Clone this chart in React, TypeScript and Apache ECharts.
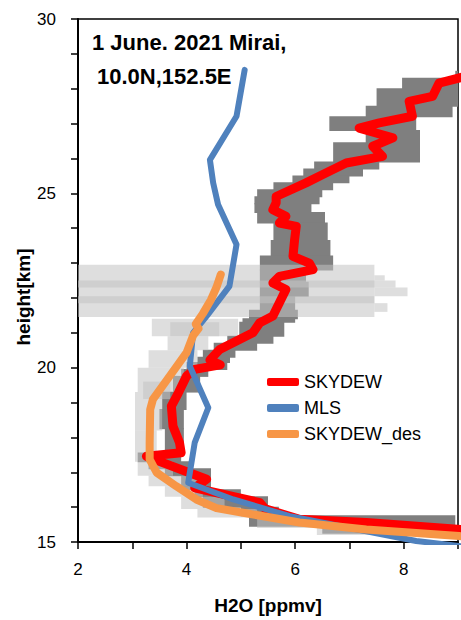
import React, { useEffect, useRef } from "react";
import * as echarts from "echarts";

// [H2O ppmv, height km]
const skydew: [number, number][] = [
  [9.3, 28.42], [8.65, 28.16], [8.53, 27.78], [8.1, 27.64], [8.16, 27.21],
  [7.55, 27.02], [7.18, 26.87], [7.49, 26.73], [7.8, 26.59], [7.43, 26.35],
  [7.61, 26.06], [6.94, 25.87], [6.51, 25.54], [6.2, 25.3], [5.65, 24.91],
  [5.65, 24.73], [5.59, 24.53], [5.83, 24.34], [5.71, 24.15], [6.02, 24.05],
  [5.99, 23.67], [5.96, 23.19], [6.26, 23.0], [6.33, 22.81], [5.71, 22.62],
  [5.59, 22.43], [5.83, 22.24], [5.71, 21.86], [5.59, 21.48], [5.35, 21.29],
  [5.22, 21.0], [4.61, 20.52], [4.43, 20.22], [4.62, 20.08], [4.15, 19.95],
  [4.0, 19.76], [3.85, 19.28], [3.72, 18.9], [3.75, 18.32], [3.87, 17.85],
  [3.9, 17.56], [3.26, 17.46], [3.4, 17.37], [4.37, 16.8], [4.15, 16.55],
  [5.35, 16.13], [5.45, 15.95], [6.08, 15.65], [7.31, 15.56], [9.2, 15.34],
];

const mls: [number, number][] = [
  [5.07, 28.54], [4.92, 27.21], [4.43, 25.96], [4.49, 25.3], [4.58, 24.68],
  [4.92, 23.53], [4.79, 22.34], [4.37, 21.48], [4.12, 21.0], [4.06, 20.04],
  [4.4, 18.85], [4.15, 17.85], [4.03, 16.7], [4.86, 16.22], [5.9, 15.74],
  [8.23, 15.03], [9.2, 14.85],
];

const skydewDes: [number, number][] = [
  [4.63, 22.67], [4.55, 22.3], [4.45, 21.95], [4.3, 21.55], [4.17, 21.25],
  [4.22, 21.12], [4.12, 20.92], [4.0, 20.43], [3.69, 19.76], [3.38, 19.09],
  [3.33, 18.8], [3.32, 17.85], [3.32, 17.37], [3.45, 16.99], [3.81, 16.6],
  [4.18, 16.22], [4.55, 15.97], [5.04, 15.84], [6.08, 15.56], [7.31, 15.36],
  [9.02, 15.17], [9.3, 15.14],
];

// [height low, height high, ppmv low, ppmv high]
const skydewBand: [number, number, number, number][] = [
  [28.3, 28.5, 8.95, 9.3], [28.0, 28.3, 7.97, 9.3], [27.5, 28.0, 7.5, 9.0],
  [27.2, 27.5, 7.3, 8.9], [26.8, 27.2, 6.63, 8.23], [26.45, 26.8, 7.3, 8.3],
  [25.9, 26.45, 6.7, 8.3], [25.7, 25.9, 6.35, 7.55], [25.5, 25.7, 6.15, 7.25],
  [25.3, 25.5, 5.95, 7.0], [25.1, 25.3, 5.6, 6.7], [24.9, 25.1, 5.3, 6.5],
  [24.7, 24.9, 5.25, 6.45], [24.45, 24.7, 5.25, 6.3], [24.15, 24.45, 5.3, 6.55],
  [23.65, 24.15, 5.6, 6.6], [23.2, 23.65, 5.55, 6.65], [22.8, 23.2, 5.35, 6.7],
  [22.45, 22.8, 5.35, 6.2], [22.05, 22.45, 5.35, 6.25], [21.65, 22.05, 5.35, 6.0],
  [21.4, 21.65, 5.15, 6.05], [21.3, 21.4, 5.03, 6.0], [20.9, 21.3, 4.97, 5.8],
  [20.7, 20.9, 4.75, 5.6], [20.5, 20.7, 4.5, 5.3], [20.3, 20.5, 4.3, 4.9],
  [20.15, 20.3, 4.2, 4.8], [19.95, 20.15, 4.0, 4.75], [19.75, 19.95, 3.9, 4.4],
  [19.3, 19.75, 3.75, 4.25], [18.8, 19.3, 3.55, 4.0], [18.25, 18.8, 3.5, 3.95],
  [17.55, 18.25, 3.6, 3.95], [17.3, 17.55, 3.1, 3.9], [17.1, 17.3, 3.3, 4.1],
  [16.9, 17.1, 3.6, 4.45], [16.5, 16.9, 3.9, 4.45], [16.3, 16.5, 4.15, 5.0],
  [16.0, 16.3, 4.3, 5.5], [15.75, 16.0, 5.0, 5.7], [15.45, 15.75, 5.15, 8.95],
  [15.25, 15.45, 6.5, 9.3],
];

const skydewDesBand: [number, number, number, number][] = [
  [21.45, 22.95, 2.0, 7.46], [22.3, 22.5, 2.0, 7.85], [21.85, 22.05, 2.0, 7.46],
  [22.05, 22.3, 7.46, 8.07], [22.5, 22.65, 7.46, 7.65], [21.6, 21.85, 7.46, 7.7],
  [20.9, 21.4, 3.36, 4.95], [20.9, 21.3, 3.7, 4.6], [20.5, 20.9, 3.65, 4.4],
  [20.0, 20.5, 3.3, 4.2], [19.3, 20.0, 3.1, 3.95], [19.1, 19.6, 3.2, 3.7],
  [18.2, 19.3, 3.05, 3.55], [17.55, 18.2, 3.05, 3.45], [17.3, 17.55, 3.05, 3.55],
  [16.9, 17.3, 3.1, 3.75], [16.6, 16.9, 3.3, 4.2], [16.3, 16.6, 3.6, 4.3],
  [15.95, 16.3, 3.9, 4.7], [15.7, 15.95, 4.2, 5.3], [15.4, 15.7, 5.3, 6.9],
  [15.2, 15.45, 6.4, 8.4],
];

const xTicksLabelled = [2, 4, 6, 8];
const yTicksLabelled = [15, 20, 25, 30];

const FONT = "'Liberation Sans', Arial, sans-serif";

function bandSeries(
  data: [number, number, number, number][],
  fill: string,
  z: number,
  seamPad: number
) {
  return {
    type: "custom",
    z,
    silent: true,
    encode: { x: [2, 3], y: [0, 1] },
    data,
    renderItem: (params: any, api: any) => {
      const p1 = api.coord([api.value(2), api.value(1)]);
      const p2 = api.coord([api.value(3), api.value(0)]);
      const shape = echarts.graphic.clipRectByRect(
        {
          x: p1[0],
          y: p1[1] - seamPad,
          width: p2[0] - p1[0],
          height: p2[1] - p1[1] + 2 * seamPad,
        },
        {
          x: params.coordSys.x,
          y: params.coordSys.y,
          width: params.coordSys.width,
          height: params.coordSys.height,
        }
      );
      if (!shape) return null;
      return { type: "rect", shape, style: { fill } };
    },
  };
}

export default function App() {
  const ref = useRef<HTMLDivElement>(null);
  useEffect(() => {
    if (!ref.current) return;
    const chart = echarts.init(ref.current, undefined, { renderer: "svg" });
    const lineSeries = (name: string, data: [number, number][], color: string, width: number) => ({
      name,
      type: "line",
      z: 5,
      data,
      showSymbol: false,
      symbol: "none",
      clip: true,
      color,
      lineStyle: { color, width, cap: "round", join: "round" },
    });
    chart.setOption({
      animation: false,
      textStyle: { fontFamily: FONT },
      grid: {
        left: 78,
        top: 19,
        width: 381,
        height: 524,
        show: true,
        borderColor: "#000",
        borderWidth: 1.5,
        backgroundColor: "transparent",
      },
      xAxis: {
        type: "value",
        min: 2,
        max: 9,
        interval: 1,
        splitLine: { show: false },
        axisLine: { onZero: false, lineStyle: { color: "#000", width: 2 } },
        axisTick: { inside: false, length: 7, lineStyle: { color: "#000", width: 1.5 } },
        axisLabel: {
          margin: 19,
          fontSize: 17,
          color: "#000",
          fontFamily: FONT,
          formatter: (v: number) => (xTicksLabelled.includes(v) ? String(v) : ""),
        },
        name: "H2O [ppmv]",
        nameLocation: "middle",
        nameGap: 54,
        nameTextStyle: { fontSize: 19, fontWeight: "bold", color: "#000", fontFamily: FONT },
      },
      yAxis: {
        type: "value",
        min: 15,
        max: 30,
        interval: 1,
        splitLine: { show: false },
        axisLine: { onZero: false, lineStyle: { color: "#000", width: 2 } },
        axisTick: { inside: false, length: 7, lineStyle: { color: "#000", width: 1.5 } },
        axisLabel: {
          margin: 22,
          fontSize: 17,
          color: "#000",
          fontFamily: FONT,
          formatter: (v: number) => (yTicksLabelled.includes(v) ? String(v) : ""),
        },
      },
      legend: {
        orient: "vertical",
        left: 262,
        top: 368,
        itemWidth: 32,
        itemHeight: 8,
        itemGap: 8,
        icon: "roundRect",
        data: ["SKYDEW", "MLS", "SKYDEW_des"],
        textStyle: { fontSize: 18, color: "#000", fontFamily: FONT },
      },
      graphic: [
        {
          type: "text",
          left: 92,
          top: 31,
          style: { text: "1 June. 2021 Mirai,", font: `bold 22px ${FONT}`, fill: "#000" },
        },
        {
          type: "text",
          left: 97,
          top: 65,
          style: { text: "10.0N,152.5E", font: `bold 22px ${FONT}`, fill: "#000" },
        },
        {
          type: "text",
          x: 23,
          y: 297,
          rotation: Math.PI / 2,
          style: {
            text: "height[km]",
            font: `bold 19px ${FONT}`,
            fill: "#000",
            align: "center",
            verticalAlign: "middle",
          },
        },
      ],
      series: [
        bandSeries(skydewBand, "#7f7f7f", 1, 0.5),
        bandSeries(skydewDesBand, "rgba(195,195,195,0.55)", 2, 0),
        lineSeries("SKYDEW", skydew, "#ff0000", 9),
        lineSeries("MLS", mls, "#4f81bd", 6),
        lineSeries("SKYDEW_des", skydewDes, "#f79646", 8),
      ],
    });
    return () => chart.dispose();
  }, []);
  return (
    <div
      ref={ref}
      style={{ position: "fixed", left: 0, top: 0, width: 461, height: 620, background: "#fff" }}
    />
  );
}
